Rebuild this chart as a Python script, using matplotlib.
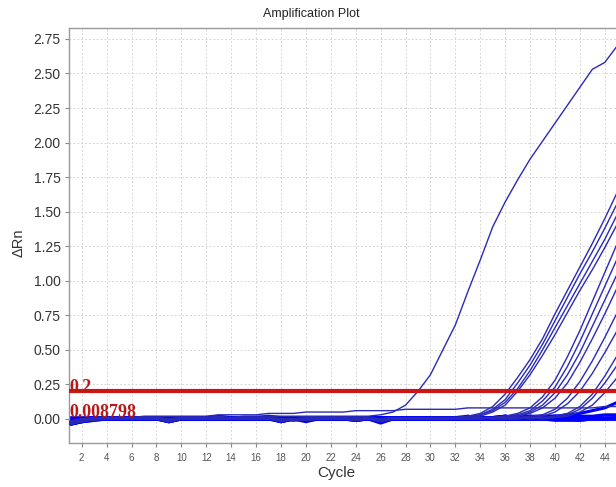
import matplotlib
matplotlib.use("Agg")
import matplotlib.pyplot as plt
import numpy as np

# ---------------- data ----------------
CYCLES = list(range(1, 46))
X_TICKS = list(range(2, 45, 2))
Y_TICKS = [0.00, 0.25, 0.50, 0.75, 1.00, 1.25, 1.50, 1.75, 2.00, 2.25, 2.50, 2.75]
THRESHOLDS = [0.2, 0.008798]
THRESHOLD_LABELS = ["0.2", "0.008798"]

curve_a = [-0.02, 0.0, 0.01, 0.01, 0.01, 0.01, 0.01, 0.01, 0.0, 0.01,
           0.01, 0.01, 0.02, 0.01, 0.02, 0.02, 0.02, 0.02, 0.02, 0.02,
           0.02, 0.02, 0.02, 0.02, 0.02,
           0.03, 0.05, 0.10, 0.20, 0.32, 0.50, 0.68, 0.92, 1.15, 1.39,
           1.57, 1.73, 1.88, 2.01, 2.14, 2.27, 2.40, 2.53, 2.58, 2.70]

curve_flat = [-0.02, 0.0, 0.01, 0.01, 0.01, 0.01, 0.02, 0.02, 0.02, 0.02,
              0.02, 0.02, 0.03, 0.03, 0.03, 0.03, 0.04, 0.04, 0.04, 0.05,
              0.05, 0.05, 0.05, 0.06, 0.06, 0.06, 0.06, 0.07, 0.07, 0.07,
              0.07, 0.07, 0.08, 0.08, 0.08, 0.08, 0.08, 0.08, 0.08, 0.08,
              0.08, 0.08, 0.08, 0.09, 0.09]

g1a = [-0.03, -0.01, 0.0, 0.01, 0.0, 0.01, 0.01, 0.0, -0.01, 0.0,
       0.01, 0.01, 0.0, 0.01, 0.01, 0.0, 0.01, 0.0, 0.0, 0.01,
       0.01, 0.0, 0.01, 0.0, 0.01, 0.0, 0.01, 0.01, 0.01, 0.01,
       0.01, 0.01,
       0.02, 0.04, 0.09, 0.18, 0.30, 0.43, 0.58, 0.76, 0.93, 1.10, 1.27, 1.45, 1.64]
g1b = [-0.04, -0.02, 0.0, 0.0, 0.01, 0.0, 0.0, 0.0, -0.02, 0.0,
       0.0, 0.0, 0.01, 0.0, 0.0, 0.01, 0.0, -0.01, 0.0, 0.0,
       0.0, 0.01, 0.0, 0.0, 0.0, 0.0, 0.0, 0.01, 0.0, 0.01,
       0.01, 0.01,
       0.01, 0.03, 0.07, 0.14, 0.26, 0.39, 0.54, 0.71, 0.88, 1.05, 1.21, 1.38, 1.56]
g1c = [-0.02, 0.0, 0.0, 0.01, 0.01, 0.0, 0.01, 0.0, 0.0, 0.0,
       0.01, 0.0, 0.0, 0.0, 0.01, 0.01, 0.0, 0.0, -0.01, 0.0,
       0.01, 0.0, 0.0, 0.01, 0.0, 0.0, 0.0, 0.0, 0.01, 0.0,
       0.01, 0.01, 0.01,
       0.03, 0.06, 0.12, 0.22, 0.35, 0.50, 0.66, 0.82, 0.98, 1.14, 1.30, 1.48]
g1d = [-0.03, -0.01, 0.0, 0.0, 0.0, 0.01, 0.0, 0.0, -0.01, 0.0,
       0.0, 0.01, 0.0, 0.0, 0.0, 0.0, 0.01, -0.01, 0.0, -0.01,
       0.0, 0.0, 0.0, 0.0, 0.0, -0.01, 0.0, 0.0, 0.0, 0.0,
       0.0, 0.01, 0.01,
       0.02, 0.05, 0.10, 0.20, 0.32, 0.46, 0.61, 0.77, 0.93, 1.08, 1.24, 1.41]

g2a = [-0.03, -0.01, 0.00, 0.01, 0.00, 0.00, 0.01, 0.00, -0.01, 0.00,
       0.00, 0.01, 0.01, 0.00, 0.00, 0.01, 0.00, -0.01, 0.00, -0.01,
       0.00, 0.01, 0.00, 0.00, 0.01, -0.01, 0.00, 0.00, 0.01, 0.00,
       0.01, 0.00, 0.01, 0.01, 0.01,
       0.02, 0.04, 0.08, 0.16, 0.28, 0.45, 0.64, 0.85, 1.06, 1.27]
g2b = [-0.04, -0.02, -0.01, 0.00, 0.01, 0.00, 0.00, 0.01, -0.02, 0.00,
       0.01, 0.00, 0.00, 0.01, 0.00, 0.00, 0.01, -0.02, 0.00, 0.00,
       0.01, 0.00, 0.01, -0.01, 0.00, -0.02, 0.00, 0.01, 0.00, 0.01,
       0.00, 0.01, 0.00, 0.01, 0.01, 0.02,
       0.03, 0.06, 0.13, 0.23, 0.38, 0.56, 0.76, 0.96, 1.16]
g2c = [-0.02, 0.00, 0.01, 0.01, 0.00, 0.01, 0.00, 0.00, 0.00, 0.01,
       0.00, 0.00, 0.01, 0.00, 0.01, 0.00, 0.00, 0.00, 0.00, -0.01,
       0.00, 0.00, 0.01, 0.00, 0.00, 0.00, 0.01, 0.00, 0.00, 0.01,
       0.01, 0.00, 0.01, 0.00, 0.01, 0.01,
       0.02, 0.05, 0.10, 0.19, 0.32, 0.48, 0.67, 0.86, 1.05]
g2d = [-0.03, -0.01, 0.00, 0.00, 0.01, 0.01, 0.00, 0.00, -0.01, 0.00,
       0.00, 0.01, 0.00, 0.00, 0.01, 0.00, 0.00, -0.01, 0.00, 0.00,
       0.00, 0.00, 0.00, -0.01, 0.00, -0.01, 0.00, 0.00, 0.00, 0.01,
       0.00, 0.00, 0.01, 0.01, 0.01, 0.01, 0.02,
       0.04, 0.08, 0.15, 0.26, 0.41, 0.58, 0.76, 0.95]

g3a = [-0.02, -0.01, 0.00, 0.01, 0.01, 0.00, 0.00, 0.00, -0.01, 0.00,
       0.01, 0.00, 0.00, 0.01, 0.00, 0.01, 0.00, 0.00, 0.00, 0.00,
       0.01, 0.00, 0.00, 0.00, 0.01, 0.00, 0.00, 0.01, 0.00, 0.00,
       0.01, 0.00, 0.01, 0.01, 0.00, 0.01, 0.01, 0.02,
       0.03, 0.07, 0.15, 0.27, 0.42, 0.59, 0.77]
g3b = [-0.03, -0.01, 0.00, 0.00, 0.00, 0.01, 0.00, 0.00, -0.02, 0.00,
       0.00, 0.00, 0.01, 0.00, 0.00, 0.00, 0.01, -0.01, 0.00, -0.01,
       0.00, 0.00, 0.00, 0.00, 0.00, -0.02, 0.00, 0.00, 0.00, 0.00,
       0.00, 0.01, 0.00, 0.00, 0.01, 0.00, 0.01, 0.01,
       0.02, 0.05, 0.11, 0.20, 0.33, 0.48, 0.64]

g4a = [-0.04, -0.02, 0.00, 0.00, 0.01, 0.00, 0.01, 0.00, -0.01, 0.00,
       0.00, 0.01, 0.00, 0.01, 0.00, 0.00, 0.00, -0.01, 0.00, 0.00,
       0.01, 0.00, 0.00, -0.01, 0.00, -0.01, 0.00, 0.01, 0.00, 0.00,
       0.01, 0.00, 0.00, 0.01, 0.00, 0.01, 0.01, 0.00, 0.01, 0.02,
       0.04, 0.09, 0.18, 0.31, 0.46]
g4b = [-0.02, 0.00, 0.00, 0.01, 0.00, 0.00, 0.00, 0.01, 0.00, 0.00,
       0.01, 0.00, 0.00, 0.00, 0.01, 0.00, 0.01, 0.00, 0.00, 0.00,
       0.00, 0.01, 0.00, 0.00, 0.00, 0.00, 0.01, 0.00, 0.00, 0.00,
       0.00, 0.01, 0.00, 0.00, 0.01, 0.00, 0.00, 0.01, 0.01, 0.01,
       0.03, 0.07, 0.15, 0.26, 0.39]
g4c = [-0.03, -0.01, 0.00, 0.00, 0.00, 0.00, 0.01, 0.00, -0.01, 0.00,
       0.00, 0.00, 0.00, 0.01, 0.00, 0.00, 0.00, -0.02, 0.00, 0.00,
       0.00, 0.00, 0.00, 0.00, 0.00, -0.01, 0.00, 0.00, 0.00, 0.00,
       0.00, 0.00, 0.00, 0.01, 0.00, 0.00, 0.00, 0.01, 0.00, 0.01,
       0.02, 0.05, 0.10, 0.19, 0.30]

b1 = [-0.04, -0.02, -0.01, 0.00, 0.00, 0.00, 0.00, 0.00, -0.02, 0.00,
      0.00, 0.00, 0.00, 0.00, 0.00, 0.00, 0.00, -0.02, 0.00, -0.02,
      0.00, 0.00, 0.00, -0.01, 0.00, -0.03, 0.00, 0.00, 0.00, 0.00,
      0.00, 0.00, 0.00, 0.00, 0.00, 0.00, 0.00, 0.00, 0.00, 0.00,
      0.00, -0.01, 0.00, 0.00, 0.01]
b2 = [-0.02, 0.00, 0.01, 0.01, 0.01, 0.01, 0.01, 0.01, 0.00, 0.01,
      0.01, 0.01, 0.02, 0.01, 0.01, 0.01, 0.02, 0.01, 0.01, 0.01,
      0.01, 0.01, 0.01, 0.01, 0.01, 0.01, 0.01, 0.01, 0.01, 0.01,
      0.01, 0.01, 0.01, 0.01, 0.01, 0.02, 0.01, 0.01, 0.02, 0.02,
      0.02, 0.02, 0.02, 0.03, 0.03]
b3 = [-0.03, -0.01, 0.00, 0.00, 0.00, 0.00, 0.00, 0.00, -0.01, 0.00,
      0.00, 0.00, 0.00, 0.00, 0.00, 0.00, 0.00, -0.01, 0.00, 0.00,
      0.00, 0.00, 0.00, 0.00, 0.00, -0.01, 0.00, 0.00, 0.00, 0.00,
      0.00, 0.00, 0.00, 0.00, 0.00, 0.00, 0.00, 0.00, 0.00, -0.01,
      -0.01, -0.01, 0.00, 0.00, 0.00]
b4 = [-0.02, 0.00, 0.00, 0.01, 0.00, 0.01, 0.00, 0.00, 0.00, 0.00,
      0.01, 0.00, 0.00, 0.00, 0.00, 0.01, 0.00, 0.00, 0.00, 0.00,
      0.00, 0.00, 0.01, 0.00, 0.00, 0.00, 0.00, 0.01, 0.00, 0.00,
      0.01, 0.01, 0.01, 0.01, 0.01, 0.01, 0.02, 0.02, 0.02, 0.02,
      0.03, 0.04, 0.06, 0.08, 0.12]

baseline_curves = [b1, b2, b3, b4]
rising_curves = [curve_flat, curve_a, g1a, g1b, g1c, g1d, g2a, g2b, g2c, g2d,
                 g3a, g3b, g4a, g4b, g4c]
# curves whose flat (pre-rise) stretch is drawn as part of the dense band
band_curves = [g1a, g1b, g1c, g1d, g2a, g2b, g2c, g2d, g3a, g3b, g4a, g4b, g4c]

# ---------------- figure ----------------
W, H = 616, 487
fig = plt.figure(figsize=(W / 100, H / 100), dpi=100)
ax = fig.add_axes([69 / W, 44 / H, 1 - 69 / W, (443 - 28) / H])

ax.set_xlim(0.98, 44.9)
ax.set_ylim(-0.174, 2.829)

ax.set_xticks(X_TICKS)
ax.set_yticks(Y_TICKS)
ax.grid(True, color="#d6d6d6", linestyle=(0, (2, 2)), linewidth=0.7, zorder=0)
ax.set_axisbelow(True)

# dense baseline band
for v in baseline_curves:
    ax.plot(CYCLES[:len(v)], v, color="#0000ff", linewidth=2.2, zorder=2)
for v in band_curves:
    arr = np.array(v)
    # flat stretch: up to the last cycle still at baseline level
    n = int(np.argmax(arr > 0.02)) if np.any(arr > 0.02) else len(arr)
    ax.plot(CYCLES[:n], v[:n], color="#0000ff", linewidth=2.2, zorder=2)
ax.axhline(THRESHOLDS[1], color="#0000ff", linewidth=3.4, zorder=2.5)

# individual curves
for v in rising_curves:
    ax.plot(CYCLES[:len(v)], v, color="#2a2ab8", linewidth=1.0, zorder=3)

# threshold 0.2
ax.axhline(THRESHOLDS[0], color="#cc1515", linewidth=3.0, zorder=5)

ax.text(1.05, 0.195, THRESHOLD_LABELS[0], color="#b81818", fontsize=13,
        family="Liberation Serif", fontweight="bold", va="baseline", ha="left", zorder=6)
ax.text(1.05, 0.016, THRESHOLD_LABELS[1], color="#b81818", fontsize=13,
        family="Liberation Serif", fontweight="bold", va="baseline", ha="left", zorder=6)

for s in ["left", "bottom", "top"]:
    ax.spines[s].set_color("#9a9a9a")
    ax.spines[s].set_linewidth(1.0)
ax.spines["right"].set_visible(False)

ax.set_yticklabels([f"{t:.2f}" for t in Y_TICKS])
ax.tick_params(axis="y", direction="out", length=3, width=0.8, color="#888888",
               labelsize=10, labelcolor="#333333", pad=3)
ax.tick_params(axis="x", direction="out", length=3, width=0.8, color="#888888",
               labelsize=7, labelcolor="#555555", pad=4)
for lab in ax.get_xticklabels() + ax.get_yticklabels():
    lab.set_family("Liberation Sans")

fig.text(311 / W, 1 - 14 / H, "Amplification Plot", ha="center", va="center",
         fontsize=9, family="Liberation Sans", color="#222222")
fig.text(336 / W, 1 - 473 / H, "Cycle", ha="center", va="center",
         fontsize=11, family="Liberation Sans", color="#333333")
fig.text(19 / W, 1 - 243 / H, "ΔRn", ha="center", va="center", rotation=90,
         fontsize=10.5, family="Liberation Sans", color="#333333")

fig.savefig("out.png", dpi=100)
